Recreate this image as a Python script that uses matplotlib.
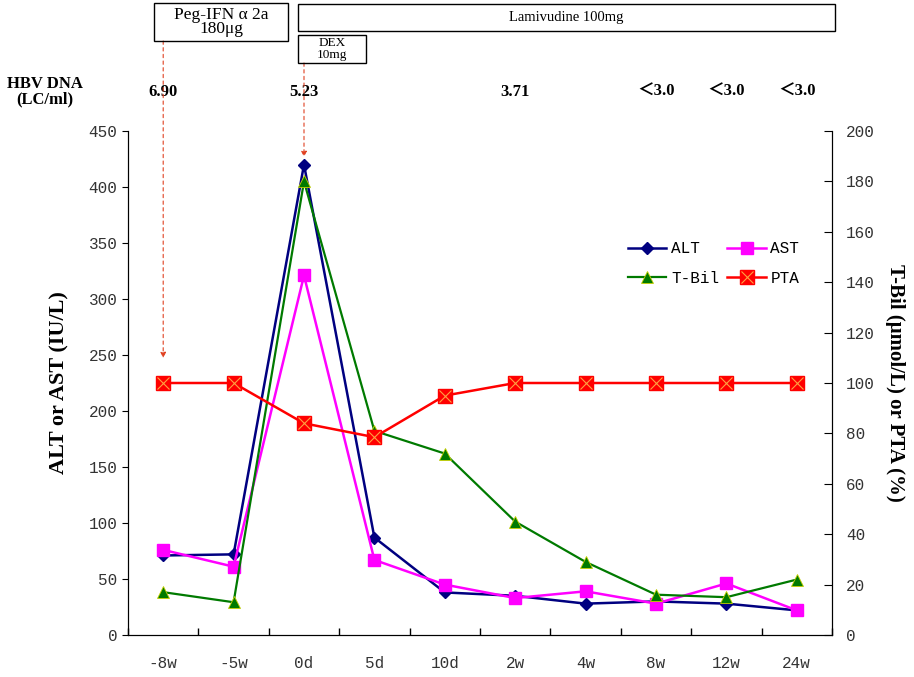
import numpy as np
import matplotlib
matplotlib.use("Agg")
import matplotlib.pyplot as plt
from matplotlib.patches import Rectangle
from matplotlib import transforms

# data
timepoints = ['-8w', '-5w', '0d', '5d', '10d', '2w', '4w', '8w', '12w', '24w']
alt = [71, 72, 420, 87, 38, 35, 28, 30, 28, 22]
ast = [76, 61, 321, 67, 45, 33, 39, 28, 46, 22]
tbil = [17, 13, 180, 81, 72, 45, 29, 16, 15, 22]
pta = [100, 100, 84, 78.5, 95, 100, 100, 100, 100, 100]
hbv_pos = [0, 2, 5, 7, 8, 9]
hbv_txt = ['6.90', '5.23', '3.71', '＜3.0', '＜3.0', '＜3.0']

W, H = 914, 677
mono = 'Liberation Mono'
serif = 'Liberation Serif'

fig = plt.figure(figsize=(W / 100, H / 100), dpi=100)
ax = fig.add_axes([128 / W, 1 - 635 / H, (832 - 128) / W, (635 - 131) / H])
ax2 = ax.twinx()

x = np.arange(len(timepoints))

l1, = ax.plot(x, alt, color='#000080', lw=1.8, marker='D', ms=6.5, label='ALT')
l2, = ax.plot(x, ast, color='#ff00ff', lw=1.8, marker='s', ms=8, label='AST')
l3, = ax2.plot(x, tbil, color='#007a00', lw=1.6, marker='^', ms=8,
               mec='#c8d000', mew=0.6, label='T-Bil')
l4, = ax2.plot(x, pta, color='#ff0000', lw=1.8, marker='s', ms=10, label='PTA')
l4x, = ax2.plot(x, pta, ls='none', marker='x', ms=8, color='#ffa040', mew=0.8)

ax.set_xlim(-0.5, len(timepoints) - 0.5)
ax.set_ylim(0, 450)
ax.set_yticks(np.arange(0, 451, 50))
ax2.set_ylim(0, 200)
ax2.set_yticks(np.arange(0, 201, 20))

# boundary ticks without labels, category labels at centres
ax.set_xticks(np.arange(-0.5, len(timepoints), 1))
ax.set_xticklabels([])
ax.tick_params(axis='x', which='major', direction='in', length=5, width=1)
ax.set_xticks(x, minor=True)
ax.set_xticklabels(timepoints, minor=True, fontfamily=mono, fontsize=11.5)
ax.tick_params(axis='x', which='minor', length=0, pad=15)
ax.tick_params(axis='y', direction='out', length=4, labelsize=11.5)
ax2.tick_params(axis='y', direction='in', length=6, labelsize=11.5, pad=10)
for lab in ax.get_yticklabels() + ax2.get_yticklabels():
    lab.set_fontfamily(mono)
    lab.set_color('#333333')
for lab in ax.get_xticklabels(minor=True):
    lab.set_color('#333333')

for a in (ax, ax2):
    a.spines['top'].set_visible(False)
ax.set_ylabel('ALT or AST (IU/L)', fontfamily=serif, fontweight='bold', fontsize=16, labelpad=14)
ax2.set_ylabel('T-Bil (μmol/L) or PTA (%)', fontfamily=serif, fontweight='bold', fontsize=15,
               rotation=270, labelpad=22)

# ncol=2 fills column-wise, so order gives rows ALT/AST and T-Bil/PTA
leg = ax2.legend([l1, l3, l2, (l4, l4x)], ['ALT', 'T-Bil', 'AST', 'PTA'], ncol=2,
                 frameon=False, loc='upper left', bbox_to_anchor=(0.69, 0.81),
                 prop={'family': mono, 'size': 11.5}, handlelength=2.4,
                 columnspacing=0.5, labelspacing=0.9, handletextpad=0.3)

# HBV DNA row
tr = transforms.blended_transform_factory(ax.transData, fig.transFigure)
fig.text(45 / W, 1 - 92 / H, 'HBV DNA\n(LC/ml)', ha='center', va='center',
         fontfamily=serif, fontweight='bold', fontsize=12, linespacing=0.95)
for p, t in zip(hbv_pos, hbv_txt):
    ax.text(p, 1 - 92 / H, t, transform=tr, ha='center', va='center',
            fontfamily=[serif, 'Noto Sans CJK SC'], fontweight='bold', fontsize=12,
            clip_on=False)

# treatment boxes
def box(x0, y0, x1, y1, txt, size, fam=serif):
    fig.add_artist(Rectangle((x0 / W, 1 - y1 / H), (x1 - x0) / W, (y1 - y0) / H,
                             transform=fig.transFigure, fill=False, lw=1, ec='black'))
    fig.text((x0 + x1) / 2 / W, 1 - (y0 + y1) / 2 / H, txt, ha='center', va='center',
             fontfamily=fam, fontsize=size, linespacing=0.9)

box(154, 3, 288, 41, 'Peg-IFN α 2a\n180μg', 12.5)
box(298, 4, 835, 31, 'Lamivudine 100mg', 10.5)
box(298, 35, 366, 63, 'DEX\n10mg', 9.5)

# dashed arrows
for p, y0, y1 in [(0, 41, 358), (2, 63, 157)]:
    ax.annotate('', xy=(p, 1 - y1 / H), xytext=(p, 1 - y0 / H),
                xycoords=tr, textcoords=tr,
                arrowprops=dict(arrowstyle='-|>', color='#e04020', lw=0.8,
                                ls=(0, (3, 3)), mutation_scale=8, shrinkA=0, shrinkB=0))

fig.savefig('out.png', dpi=100)
